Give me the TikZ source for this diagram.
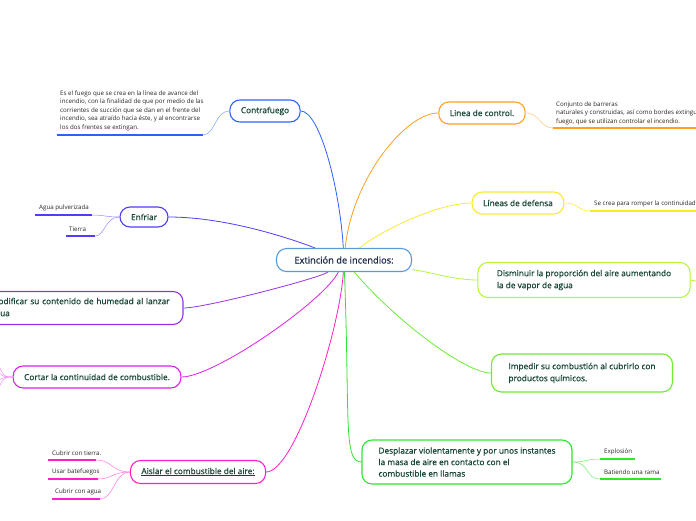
\documentclass[tikz,border=0pt]{standalone}
\usepackage{fontspec}
\setmainfont{Open Sans}
\newfontfamily\topicfont{Open Sans}[FakeBold=0.6]
\usetikzlibrary{positioning}
\definecolor{rootblue}{RGB}{91,155,213}
\definecolor{rootink}{RGB}{28,40,72}
\definecolor{topicink}{RGB}{22,70,52}
\definecolor{contrablue}{RGB}{41,98,255}
\definecolor{ctrlorange}{RGB}{255,160,30}
\definecolor{defyellow}{RGB}{250,235,40}
\definecolor{limegreen}{RGB}{180,245,60}
\definecolor{impgreen}{RGB}{110,235,50}
\definecolor{despgreen}{RGB}{45,230,45}
\definecolor{coldblue}{RGB}{80,60,255}
\definecolor{modviolet}{RGB}{150,50,230}
\definecolor{cutmagenta}{RGB}{220,30,230}
\definecolor{isopink}{RGB}{255,30,200}
\pgfdeclarelayer{background}
\pgfsetlayers{background,main}

\begin{document}
\begin{tikzpicture}[x=1pt, y=-1pt,
    topic/.style={draw, line width=1.1pt, rounded corners=10pt, fill=white, text=topicink,
                  font=\topicfont\fontsize{8.3}{12}\selectfont, inner xsep=11pt, minimum height=22pt},
    note/.style={font=\fontsize{6.2}{8.5}\selectfont, text=black!85, align=left, inner sep=0pt},
    link/.style={line width=0.8pt},
    rule/.style={line width=1.8pt}]
    \useasboundingbox (0,0) rectangle (696,520);
    \clip (0,0) rectangle (696,520);

    % Root
    \node[topic, draw=rootblue, text=rootink, font=\topicfont\fontsize{9.3}{12}\selectfont, minimum width=135pt, minimum height=23pt] (root) at (344,260) {Extinción de incendios:};

    % Contrafuego
    \node[topic, draw=contrablue] (contra) at (265,111) {Contrafuego};
    \coordinate (contraR) at (203,135);
    \coordinate (contraL) at (57,135);
    \node[note, anchor=south west] (contranote) at (60,131) {Es el fuego que se crea en la línea de avance del\\incendio, con la finalidad de que por medio de las\\corrientes de succión que se dan en el frente del\\incendio, sea atraído hacia éste, y al encontrarse\\los dos frentes se extingan.};

    % Linea de control
    \node[topic, draw=ctrlorange] (ctrl) at (482,113) {Linea de control.};
    \coordinate (ctrlL) at (553,128);
    \coordinate (ctrlR) at (700,128);
    \node[note, anchor=south west] (ctrlnote) at (556,125) {Conjunto de barreras\\ naturales y construidas, así  como bordes extinguidos\\fuego, que se utilizan controlar el incendio.};

    % Lineas de defensa
    \node[topic, draw=defyellow] (defensa) at (518,203) {Líneas de defensa};
    \coordinate (defL) at (590,211);
    \coordinate (defR) at (700,211);
    \node[note, anchor=south west] (defnote) at (594,207) {Se crea para romper la continuidad de};

    % Disminuir
    \node[topic, draw=limegreen, align=left, minimum width=212pt, minimum height=35pt, inner xsep=19pt] (dismin) at (584,280) {Disminuir la proporción del aire aumentando\\ la de vapor de agua};
    \coordinate (disminR) at (700,282);

    % Impedir
    \node[topic, draw=impgreen, align=left, minimum width=181pt, minimum height=38pt] (impedir) at (582,373) {Impedir su combustión al cubrirlo con\\productos químicos.};

    % Desplazar
    \node[topic, draw=despgreen, align=left, minimum width=210pt, minimum height=44pt, font=\topicfont\fontsize{8.3}{11.5}\selectfont] (desplazar) at (467,462) {Desplazar violentamente y por unos instantes\\la masa de aire en contacto con el\\combustible en llamas};
    \coordinate (explL) at (600,459);
    \coordinate (explR) at (635,459);
    \coordinate (ramaL) at (600,479);
    \coordinate (ramaR) at (661,479);
    \node[note, anchor=south west] (expl) at (604,455) {Explosión};
    \node[note, anchor=south west] (rama) at (604,475) {Batiendo una rama};

    % Enfriar
    \node[topic, draw=coldblue, minimum height=20pt] (enfriar) at (144,217) {Enfriar};
    \coordinate (aguaL) at (35,215);
    \coordinate (aguaR) at (92,215);
    \coordinate (tierraL) at (66,236);
    \coordinate (tierraR) at (95,236);
    \node[note, anchor=south west] (agua) at (39,211) {Agua pulverizada};
    \node[note, anchor=south west] (tierra) at (69,232) {Tierra};

    % Modificar
    \node[topic, draw=modviolet, align=left, text width=186pt, minimum height=33pt, inner xsep=6pt] (modif) at (84,308) {Modificar su contenido de humedad al lanzar\\agua};

    % Cortar
    \node[topic, draw=cutmagenta] (cortar) at (97,377) {Cortar la continuidad de combustible.};
    \coordinate (cutA) at (-6,352);
    \coordinate (cutB) at (-6,368);
    \coordinate (cutC) at (-6,384);
    \coordinate (cutD) at (-6,400);

    % Aislar
    \node[topic, draw=isopink, minimum height=23pt] (aislar) at (198,472) {\underline{Aislar el combustible del aire:}};
    \coordinate (tierraaL) at (48,460);
    \coordinate (tierraaR) at (96,460);
    \coordinate (bateL) at (48,479);
    \coordinate (bateR) at (98,479);
    \coordinate (guaL) at (52,499);
    \coordinate (guaR) at (100,499);
    \node[note, anchor=south west] (cubt) at (52,456) {Cubrir con tierra.};
    \node[note, anchor=south west] (bate) at (52,475) {Usar batefuegos};
    \node[note, anchor=south west] (cuba) at (55,495) {Cubrir con agua};

    % Branches from the root
    \begin{pgfonlayer}{background}
    \draw[link, contrablue] (root) .. controls (340,190) and (320,111) .. (contra.east);
    \draw[link, ctrlorange] (root) .. controls (352,180) and (405,113) .. (ctrl.west);
    \draw[link, defyellow] (root) .. controls (385,228) and (440,203) .. (defensa.west);
    \draw[link, limegreen] (root) .. controls (430,272) and (455,280) .. (dismin.west);
    \draw[link, impgreen] (root) .. controls (395,320) and (465,373) .. (impedir.west);
    \draw[link, despgreen] (root) .. controls (350,420) and (343,462) .. (desplazar.west);
    \draw[link, coldblue] (root) .. controls (320,250) and (240,217) .. (enfriar.east);
    \draw[link, modviolet] (root) .. controls (320,278) and (205,308) .. (modif.east);
    \draw[link, cutmagenta] (root) .. controls (325,300) and (215,377) .. (cortar.east);
    \draw[link, isopink] (root) .. controls (340,330) and (295,472) .. (aislar.east);
    \end{pgfonlayer}

    % Sub branches
    \draw[line width=0.5pt, contrablue!60] (contra.west) .. controls (215,111) and (215,135) .. (contraR);
    \draw[rule, contrablue] (contraR) -- (contraL);
    \draw[line width=0.5pt, ctrlorange!60] (ctrl.east) .. controls (540,113) and (540,128) .. (ctrlL);
    \draw[rule, ctrlorange] (ctrlL) -- (ctrlR);
    \draw[line width=0.5pt, defyellow] (defensa.east) .. controls (578,203) and (578,211) .. (defL);
    \draw[rule, defyellow] (defL) -- (defR);
    \draw[link, limegreen] (dismin.east) -- (disminR);
    \draw[line width=0.5pt, despgreen!70] (desplazar.east) .. controls (588,462) and (585,459) .. (explL);
    \draw[line width=0.5pt, despgreen!70] (desplazar.east) .. controls (590,462) and (585,479) .. (ramaL);
    \draw[rule, despgreen] (explL) -- (explR);
    \draw[rule, despgreen] (ramaL) -- (ramaR);
    \draw[line width=0.5pt, coldblue!60] (enfriar.west) .. controls (105,217) and (105,215) .. (aguaR);
    \draw[line width=0.5pt, coldblue!60] (enfriar.west) .. controls (105,217) and (105,236) .. (tierraR);
    \draw[rule, coldblue] (aguaR) -- (aguaL);
    \draw[rule, coldblue] (tierraR) -- (tierraL);
    \foreach \c in {cutA,cutB,cutC,cutD}
        \draw[line width=0.5pt, cutmagenta!50] (cortar.west) .. controls (3,377) and (3,377) .. (\c);
    \draw[line width=0.5pt, isopink!60] (aislar.west) .. controls (112,472) and (112,460) .. (tierraaR);
    \draw[line width=0.5pt, isopink!60] (aislar.west) .. controls (112,472) and (112,479) .. (bateR);
    \draw[line width=0.5pt, isopink!60] (aislar.west) .. controls (114,472) and (114,499) .. (guaR);
    \draw[rule, isopink] (tierraaR) -- (tierraaL);
    \draw[rule, isopink] (bateR) -- (bateL);
    \draw[rule, isopink] (guaR) -- (guaL);
\end{tikzpicture}
\end{document}
